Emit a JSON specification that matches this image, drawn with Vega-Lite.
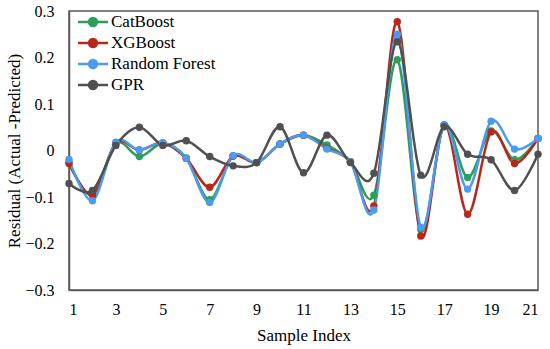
{
  "$schema": "https://vega.github.io/schema/vega-lite/v6.json",
  "width": 469,
  "height": 279,
  "autosize": "none",
  "padding": {"left": 69, "top": 11, "right": 12, "bottom": 59},
  "background": "white",
  "config": {
    "font": "Times New Roman, Liberation Serif, serif",
    "view": {"stroke": "#5a5a5a", "strokeWidth": 1.5},
    "axis": {"grid": false, "ticks": false, "domainColor": "#5a5a5a", "domainWidth": 1.5, "labelFont": "Times New Roman, Liberation Serif, serif", "titleFont": "Times New Roman, Liberation Serif, serif", "labelColor": "#000", "titleColor": "#000", "labelFontSize": 16, "titleFontSize": 17, "titleFontWeight": "normal"},
    "legend": {"labelFont": "Times New Roman, Liberation Serif, serif"}
  },
  "data": {"values": [
    {"i": 1, "CatBoost": -0.025, "XGBoost": -0.028, "Random Forest": -0.019, "GPR": -0.071},
    {"i": 2, "CatBoost": -0.096, "XGBoost": -0.095, "Random Forest": -0.108, "GPR": -0.086},
    {"i": 3, "CatBoost": 0.015, "XGBoost": 0.016, "Random Forest": 0.018, "GPR": 0.011},
    {"i": 4, "CatBoost": -0.013, "XGBoost": 0.001, "Random Forest": 0.001, "GPR": 0.050},
    {"i": 5, "CatBoost": 0.015, "XGBoost": 0.016, "Random Forest": 0.017, "GPR": 0.011},
    {"i": 6, "CatBoost": -0.016, "XGBoost": -0.017, "Random Forest": -0.017, "GPR": 0.021},
    {"i": 7, "CatBoost": -0.106, "XGBoost": -0.079, "Random Forest": -0.112, "GPR": -0.013},
    {"i": 8, "CatBoost": -0.012, "XGBoost": -0.012, "Random Forest": -0.011, "GPR": -0.033},
    {"i": 9, "CatBoost": -0.026, "XGBoost": -0.026, "Random Forest": -0.026, "GPR": -0.026},
    {"i": 10, "CatBoost": 0.014, "XGBoost": 0.014, "Random Forest": 0.014, "GPR": 0.051},
    {"i": 11, "CatBoost": 0.033, "XGBoost": 0.033, "Random Forest": 0.033, "GPR": -0.048},
    {"i": 12, "CatBoost": 0.012, "XGBoost": 0.005, "Random Forest": 0.003, "GPR": 0.033},
    {"i": 13, "CatBoost": -0.024, "XGBoost": -0.024, "Random Forest": -0.024, "GPR": -0.026},
    {"i": 14, "CatBoost": -0.096, "XGBoost": -0.119, "Random Forest": -0.128, "GPR": -0.049},
    {"i": 15, "CatBoost": 0.195, "XGBoost": 0.277, "Random Forest": 0.250, "GPR": 0.234},
    {"i": 16, "CatBoost": -0.170, "XGBoost": -0.184, "Random Forest": -0.165, "GPR": -0.053},
    {"i": 17, "CatBoost": 0.055, "XGBoost": 0.055, "Random Forest": 0.055, "GPR": 0.051},
    {"i": 18, "CatBoost": -0.058, "XGBoost": -0.137, "Random Forest": -0.083, "GPR": -0.008},
    {"i": 19, "CatBoost": 0.042, "XGBoost": 0.040, "Random Forest": 0.063, "GPR": -0.020},
    {"i": 20, "CatBoost": -0.020, "XGBoost": -0.028, "Random Forest": 0.003, "GPR": -0.086},
    {"i": 21, "CatBoost": 0.026, "XGBoost": 0.026, "Random Forest": 0.026, "GPR": -0.008}
  ]},
  "transform": [
    {"fold": ["CatBoost", "XGBoost", "Random Forest", "GPR"], "as": ["model", "r"]}
  ],
  "encoding": {
    "x": {"field": "i", "type": "quantitative", "scale": {"domain": [1, 21], "nice": false, "zero": false},
      "axis": {"values": [1, 3, 5, 7, 9, 11, 13, 15, 17, 19, 21], "title": "Sample Index", "labelPadding": 11, "titlePadding": 10}},
    "y": {"field": "r", "type": "quantitative", "scale": {"domain": [-0.3, 0.3], "nice": false},
      "axis": {"values": [-0.3, -0.2, -0.1, 0, 0.1, 0.2, 0.3], "labelExpr": "datum.value == 0 ? '0' : format(datum.value, '.1f')", "title": "Residual (Actual -Predicted)", "labelPadding": 15, "titleX": -55, "titleY": 139.5, "titleAnchor": "middle", "titleAlign": "center", "titleBaseline": "middle"}},
    "color": {"field": "model", "type": "nominal",
      "scale": {"domain": ["CatBoost", "XGBoost", "Random Forest", "GPR"], "range": ["#2e9e5b", "#b8281a", "#4b9cf0", "#505050"]},
      "legend": {"title": null, "orient": "none", "legendX": 15, "legendY": 2, "padding": 0, "labelFontSize": 17, "labelFont": "Times New Roman, Liberation Serif, serif", "labelColor": "#000", "rowPadding": 3, "labelOffset": 9,
        "symbolType": "M-2,0L2,0M-0.53,0A0.53,0.53,0,1,0,0.53,0A0.53,0.53,0,1,0,-0.53,0",
        "symbolSize": 225, "symbolStrokeWidth": 2.5,
        "encode": {"symbols": {"update": {"fill": {"scale": "color", "field": "value"}, "stroke": {"scale": "color", "field": "value"}}}}}
    }
  },
  "layer": [
    {"mark": {"type": "line", "interpolate": "cardinal", "strokeWidth": 2.5}},
    {"mark": {"type": "point", "filled": true, "size": 55, "opacity": 1}}
  ]
}
